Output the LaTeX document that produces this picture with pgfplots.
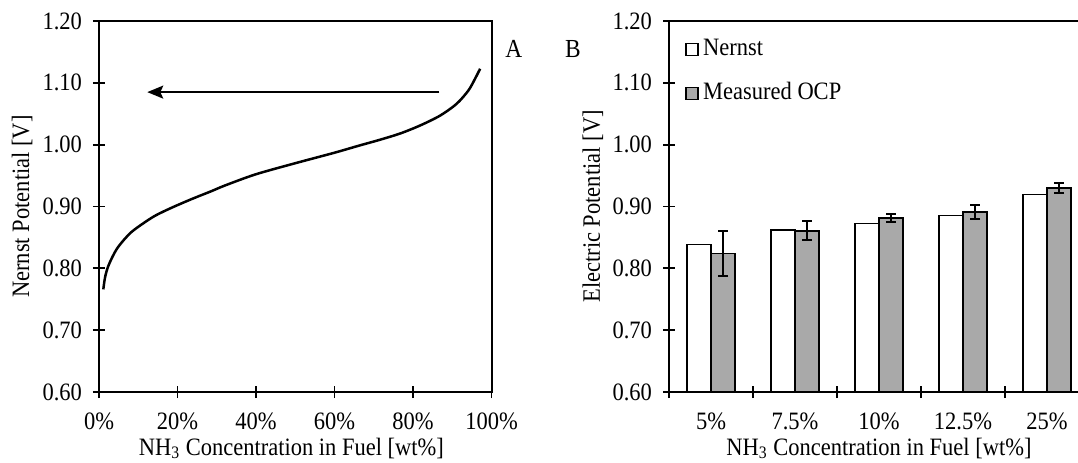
\documentclass[border=0pt]{standalone}
\usepackage{fontspec}
\setmainfont{Liberation Serif}[FakeStretch=0.9]
\usepackage{pgfplots}
\pgfplotsset{compat=1.18}
\usetikzlibrary{arrows.meta}
\definecolor{ocpGray}{HTML}{A9A9A9}

% 1 px of the reference = 0.5pt here, page 539pt x 231pt
\pgfplotsset{
  panel/.style={
    scale only axis, height=185.5pt, anchor=south west,
    ymin=0.6, ymax=1.2,
    ytick={0.6,0.7,0.8,0.9,1.0,1.1,1.2},
    y tick label style={/pgf/number format/.cd, fixed, fixed zerofill, precision=2, /tikz/.cd},
    /pgf/number format/assume math mode=true,
    tick align=center, tick pos=left,
    major tick length=6pt,
    axis line style={line width=1pt},
    every tick/.style={black, line width=0.9pt},
    tick label style={font=\fontsize{12.5}{15}\selectfont},
    yticklabel style={xshift=-2pt},
    xticklabel style={inner sep=1pt, yshift=-6pt},
    label style={font=\fontsize{12.5}{15}\selectfont},
    xlabel style={inner sep=1pt},
    clip=false,
  }
}

\begin{document}
\begin{tikzpicture}
\begin{axis}[panel,
  at={(49.5pt,35pt)}, width=196.25pt,
  xmin=0, xmax=100, xtick={0,20,40,60,80,100},
  xticklabels={0\%,20\%,40\%,60\%,80\%,100\%},
  xlabel={NH\textsubscript{3} Concentration in Fuel [wt\%]},
  ylabel={Nernst Potential [V]},
  xlabel style={at={(axis description cs:0.49,-0.170)}, anchor=base},
  ylabel style={at={(axis description cs:-0.196,0.5)}, anchor=center},
]
\addplot[black, line width=1.25pt, smooth, no marks] coordinates {
  (1.10,0.766) (1.53,0.785) (2.21,0.801) (3.23,0.816) (4.50,0.831)
  (6.20,0.845) (8.32,0.859) (10.87,0.871) (14.27,0.885) (18.5,0.898)
  (23.6,0.912) (28.7,0.925) (32.1,0.934) (39.9,0.952) (50.0,0.970)
  (60.0,0.987) (66.0,0.998) (71.6,1.008) (76.7,1.018) (81.8,1.031)
  (86.9,1.047) (91.1,1.066) (94.1,1.0875) (95.8,1.1065) (97.1,1.1227)
};
\draw[line width=1pt, -{Stealth[length=8pt, width=6.5pt, inset=1.5pt]}]
  (axis cs:86.7,1.085) -- (axis cs:12.3,1.085);
\node[font=\fontsize{13}{15}\selectfont] at (axis description cs:1.057,0.9245) {A};
\node[font=\fontsize{13}{15}\selectfont] at (axis description cs:1.2076,0.9245) {B};
\end{axis}

% categories 5%, 7.5%, 10%, 12.5%, 25% at 0..4; each bar is 1/7 of a category wide
\begin{axis}[panel,
  at={(334.5pt,35pt)}, width=210pt,
  xmin=-0.5, xmax=4.5, xtick={-0.5,0.5,1.5,2.5,3.5,4.5},
  x tick label as interval,
  xticklabels={5\%,7.5\%,10\%,12.5\%,25\%},
  xlabel={NH\textsubscript{3} Concentration in Fuel [wt\%]},
  ylabel={Electric Potential [V]},
  xlabel style={at={(axis description cs:0.5,-0.170)}, anchor=base},
  ylabel style={at={(axis description cs:-0.181,0.5)}, anchor=center},
  legend style={draw=none, fill=none, at={(0.038,0.962)}, anchor=north west,
    inner sep=0pt, row sep=8pt, cells={anchor=west},
    font=\fontsize{12.5}{15}\selectfont,
    nodes={text height=9pt, text depth=3pt, inner sep=1pt},
    /tikz/every odd column/.append style={column sep=1.2pt}},
  legend image code/.code={\draw[#1, line width=0.7pt] (0pt,-3pt) rectangle (6pt,3pt);},
]
\addplot[ybar, bar width=12pt, bar shift=0pt,
  fill=white, draw=black, line width=0.6pt] coordinates {
  (-0.1429,0.839) (0.8571,0.862) (1.8571,0.872) (2.8571,0.885) (3.8571,0.920)
};
\addlegendentry{Nernst}
\addplot[ybar, bar width=12pt, bar shift=0pt,
  fill=ocpGray, draw=black, line width=0.9pt,
  error bars/.cd, y dir=both, y explicit,
  error bar style={line width=0.9pt, black},
  error mark options={rotate=90, mark size=2.5pt, line width=0.9pt, black}]
  coordinates {
  (0.1429,0.824) +- (0,0.036)
  (1.1429,0.861) +- (0,0.015)
  (2.1429,0.882) +- (0,0.0065)
  (3.1429,0.891) +- (0,0.011)
  (4.1429,0.930) +- (0,0.0085)
};
\addlegendentry{Measured OCP}
\end{axis}
\pgfresetboundingbox
\useasboundingbox (0,0) rectangle (539pt,231pt);
\end{tikzpicture}
\end{document}
